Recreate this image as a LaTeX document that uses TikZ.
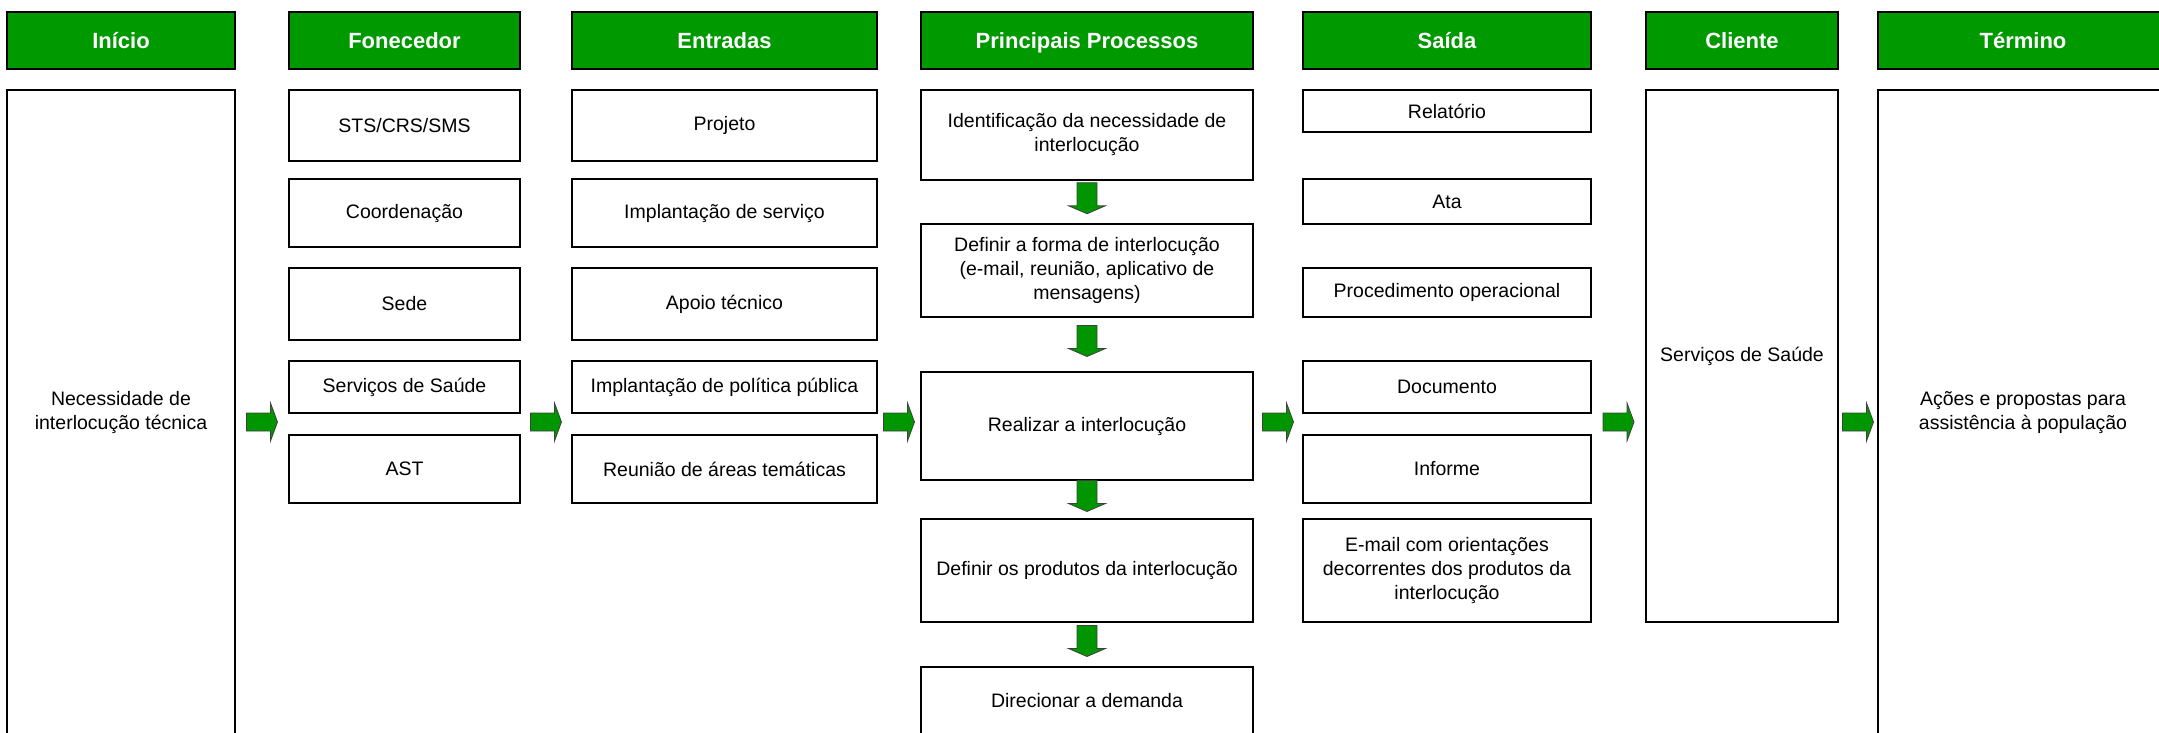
\documentclass[tikz,border=0pt]{standalone}
\usepackage{fontspec}
\setmainfont{Liberation Sans}
\usetikzlibrary{calc}
\definecolor{hdrgreen}{RGB}{0,153,0}
\definecolor{arrgreen}{RGB}{0,150,0}
\tikzset{
  box/.style={draw=black, line width=1pt, fill=white, inner sep=0pt, outer sep=0pt,
    align=center, font=\fontsize{9.75pt}{12pt}\selectfont},
  hdr/.style={box, fill=hdrgreen, text=white, text height=7.9pt, text depth=0pt,
    font=\fontsize{11pt}{13pt}\selectfont\bfseries},
  blockarrow/.style={fill=arrgreen, draw=black!75, line width=0.4pt},
  rarrow/.pic={\filldraw[blockarrow] (-15.5,-9) -- (8.5,-9) -- (8.5,-19) -- (15.5,0) -- (8.5,19) -- (8.5,9) -- (-15.5,9) -- cycle;},
  darrow/.pic={\filldraw[blockarrow] (-10,-15.5) -- (10,-15.5) -- (10,7.5) -- (18.5,7.5) -- (0,15.5) -- (-18.5,7.5) -- (-10,7.5) -- cycle;},
}
\newcommand\mkbox[7]{\node[#1, minimum width={(#5-#3)*0.5pt}, minimum height={(#6-#4)*0.5pt}] (#2) at ({(#3+#5)/2},{(#4+#6)/2}) {#7};}
\begin{document}
\begin{tikzpicture}[x=0.5pt,y=-0.5pt]
\useasboundingbox (0,0) rectangle (2159,733);
\clip (0,0) rectangle (2159,733);
% headers
\mkbox{hdr}{h1}{7}{12}{235}{69}{Início}
\mkbox{hdr}{h2}{289}{12}{520}{69}{Fonecedor}
\mkbox{hdr}{h3}{572}{12}{877}{69}{Entradas}
\mkbox{hdr}{h4}{921}{12}{1253}{69}{Principais Processos}
\mkbox{hdr}{h5}{1303}{12}{1591}{69}{Saída}
\mkbox{hdr}{h6}{1646}{12}{1838}{69}{Cliente}
\mkbox{hdr}{h7}{1878}{12}{2168}{69}{Término}
% Inicio
\mkbox{box}{ini}{7}{90}{235}{735}{Necessidade de\\interlocução técnica}
% Fornecedor
\mkbox{box}{f1}{289}{90}{520}{161}{STS/CRS/SMS}
\mkbox{box}{f2}{289}{179.5}{520}{247}{Coordenação}
\mkbox{box}{f3}{289}{268}{520}{340}{Sede}
\mkbox{box}{f4}{289}{361}{520}{413}{Serviços de Saúde}
\mkbox{box}{f5}{289}{435}{520}{503}{AST}
% Entradas
\mkbox{box}{e1}{572}{90}{877}{161}{Projeto}
\mkbox{box}{e2}{572}{179.5}{877}{247}{Implantação de serviço}
\mkbox{box}{e3}{572}{268}{877}{340}{Apoio técnico}
\mkbox{box}{e4}{572}{361}{877}{413}{Implantação de política pública}
\mkbox{box}{e5}{572}{435}{877}{503}{Reunião de áreas temáticas}
% Processos
\mkbox{box}{p1}{921}{90}{1253}{180}{Identificação da necessidade de\\interlocução}
\mkbox{box}{p2}{921}{223.5}{1253}{317}{Definir a forma de interlocução\\(e-mail, reunião, aplicativo de\\mensagens)}
\mkbox{box}{p3}{921}{372}{1253}{480}{Realizar a interlocução}
\mkbox{box}{p4}{921}{519}{1253}{622}{Definir os produtos da interlocução}
\mkbox{box}{p5}{921}{667}{1253}{735}{Direcionar a demanda}
% Saida
\mkbox{box}{s1}{1303}{90}{1591}{132}{Relatório}
\mkbox{box}{s2}{1303}{179.5}{1591}{224}{Ata}
\mkbox{box}{s3}{1303}{268}{1591}{317}{Procedimento operacional}
\mkbox{box}{s4}{1303}{361}{1591}{413}{Documento}
\mkbox{box}{s5}{1303}{435}{1591}{503}{Informe}
\mkbox{box}{s6}{1303}{519}{1591}{622}{E-mail com orientações\\decorrentes dos produtos da\\interlocução}
% Cliente
\mkbox{box}{cli}{1646}{90}{1838}{622}{Serviços de Saúde}
% Termino
\mkbox{box}{ter}{1878}{90}{2168}{735}{Ações e propostas para\\assistência à população}
% horizontal block arrows
\coordinate (row) at (0,422);
\pic at ($(ini.east|-row)!.5!(f4.west|-row)$) {rarrow};
\pic at ($(f4.east|-row)!.5!(e4.west|-row)$) {rarrow};
\pic at ($(e4.east|-row)!.5!(p3.west|-row)$) {rarrow};
\pic at ($(p3.east|-row)!.5!(s4.west|-row)$) {rarrow};
\pic at ($(s4.east|-row)!.5!(cli.west|-row)$) {rarrow};
\pic at ($(cli.east|-row)!.5!(ter.west|-row)$) {rarrow};
% vertical block arrows
\pic[yshift=1.75pt] at ($(p1.south)!.5!(p2.north)$) {darrow};
\pic[yshift=1.75pt] at ($(p2.south)!.5!(p3.north)$) {darrow};
\pic[yshift=1.75pt] at ($(p3.south)!.5!(p4.north)$) {darrow};
\pic[yshift=1.75pt] at ($(p4.south)!.5!(p5.north)$) {darrow};
\end{tikzpicture}
\end{document}
